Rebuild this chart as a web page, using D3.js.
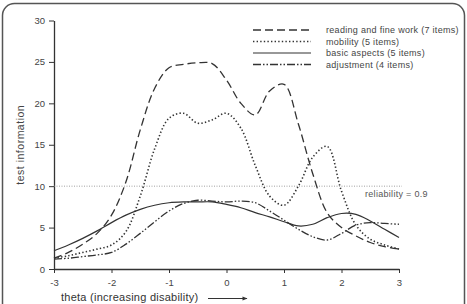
<!DOCTYPE html>
<html>
<head>
<meta charset="utf-8">
<script src="https://cdn.jsdelivr.net/npm/d3@7/dist/d3.min.js"></script>
<style>
  html, body { margin: 0; padding: 0; background: #fff; }
  svg { display: block; font-family: "Liberation Sans", Arial, sans-serif; }
</style>
</head>
<body>
<div id="chart"></div>
<script>
// theta grid and test information per subscale
const theta = [-3, -2.75, -2.5, -2.25, -2, -1.75, -1.5, -1.25, -1, -0.75, -0.5, -0.25, 0,
  0.25, 0.5, 0.75, 1, 1.25, 1.5, 1.75, 2, 2.25, 2.5, 2.75, 3];
const reading = [1.3, 2.0, 3.0, 4.3, 6.5, 10.5, 16.8, 21.8, 24.3, 24.7, 24.9, 24.8, 22.8,
  20.0, 18.6, 21.5, 22.3, 17.5, 11.5, 6.8, 5.0, 4.0, 3.2, 2.7, 2.4];
const mobility = [1.3, 1.6, 2.0, 2.4, 2.9, 4.5, 8.8, 14.5, 18.2, 18.8, 17.6, 18.0, 18.8,
  17.0, 12.5, 8.8, 7.7, 10.0, 13.5, 14.8, 9.4, 5.3, 3.6, 2.9, 2.4];
const basic = [2.2, 2.9, 3.7, 4.6, 5.6, 6.5, 7.2, 7.7, 8.0, 8.1, 8.1, 8.1, 7.8,
  7.4, 6.8, 6.3, 5.7, 5.2, 5.4, 6.2, 6.7, 6.6, 5.8, 4.8, 3.8];
const adjustment = [1.2, 1.3, 1.5, 1.7, 2.0, 3.0, 4.3, 5.7, 7.0, 7.9, 8.3, 8.2, 8.1,
  8.2, 8.0, 7.0, 5.9, 4.8, 3.9, 3.5, 4.3, 5.3, 5.6, 5.5, 5.4];
const seriesNames = ["reading and fine work (7 items)", "mobility (5 items)",
  "basic aspects (5 items)", "adjustment (4 items)"];
const xTicks = [-3, -2, -1, 0, 1, 2, 3];
const yTicks = [0, 5, 10, 15, 20, 25, 30];
const reliabilityLevel = 10;

const W = 467, H = 304;
const svg = d3.select("#chart").append("svg").attr("width", W).attr("height", H);

// rounded frame
svg.append("rect")
  .attr("x", 2.5).attr("y", 3.5).attr("width", 462).attr("height", 320)
  .attr("rx", 12).attr("ry", 12)
  .attr("fill", "none").attr("stroke", "#555").attr("stroke-width", 1.5);

const x = d3.scaleLinear().domain([-3, 3]).range([54, 399]);
const y = d3.scaleLinear().domain([0, 30]).range([269, 20.5]);

const ink = "#333";

// axes
const gx = svg.append("g").attr("transform", `translate(0,${y(0)})`)
  .call(d3.axisBottom(x).tickValues(xTicks).tickSize(4).tickSizeOuter(0).tickPadding(6));
const gy = svg.append("g").attr("transform", `translate(${x(-3)},0)`)
  .call(d3.axisLeft(y).tickValues(yTicks).tickSize(5).tickSizeOuter(0).tickPadding(4));
[gx, gy].forEach(g => {
  g.select(".domain").attr("stroke", ink).attr("stroke-width", 1.3);
  g.selectAll(".tick line").attr("stroke", ink).attr("stroke-width", 1);
  g.selectAll(".tick text").attr("fill", "#444").attr("font-size", 9.5)
    .attr("font-family", "Liberation Sans, Arial, sans-serif");
});
gx.selectAll(".tick text").text(d => d < 0 ? "-" + Math.abs(d) : d);

// reliability reference
svg.append("line")
  .attr("x1", x(-3)).attr("x2", 402)
  .attr("y1", y(reliabilityLevel)).attr("y2", y(reliabilityLevel))
  .attr("stroke", "#888").attr("stroke-width", 0.8).attr("stroke-dasharray", "1,1.5");
svg.append("text").attr("x", 365).attr("y", 197)
  .attr("font-size", 9).attr("fill", "#555").attr("letter-spacing", 0.3)
  .text("reliability = 0.9");

// curves
const styles = [
  { data: reading, dash: "8,4", width: 1.3 },
  { data: mobility, dash: "1.4,2.2", width: 1.6 },
  { data: basic, dash: null, width: 1.2 },
  { data: adjustment, dash: "8,2,1.5,2,1.5,2", width: 1.3 }
];
const line = d3.line().x(d => x(d[0])).y(d => y(d[1])).curve(d3.curveCatmullRom.alpha(0.5));

styles.forEach(s => {
  svg.append("path")
    .datum(theta.map((t, i) => [t, s.data[i]]))
    .attr("d", line)
    .attr("fill", "none").attr("stroke", ink)
    .attr("stroke-width", s.width)
    .attr("stroke-dasharray", s.dash);
});

// legend
const legendY = [30, 41.5, 53, 64.5];
seriesNames.forEach((name, i) => {
  svg.append("line")
    .attr("x1", 253).attr("x2", 311)
    .attr("y1", legendY[i]).attr("y2", legendY[i])
    .attr("stroke", ink).attr("stroke-width", styles[i].width)
    .attr("stroke-dasharray", styles[i].dash);
  svg.append("text").attr("x", 326).attr("y", legendY[i] + 3.2)
    .attr("font-size", 9).attr("fill", "#444").attr("letter-spacing", 0.3)
    .text(name);
});

// axis titles
svg.append("text")
  .attr("transform", `translate(24,${(y(0) + y(30)) / 2}) rotate(-90)`)
  .attr("text-anchor", "middle").attr("font-size", 10.5).attr("fill", "#444")
  .attr("letter-spacing", 0.5)
  .text("test information");
svg.append("text").attr("x", 61).attr("y", 301)
  .attr("font-size", 11).attr("fill", "#333").attr("letter-spacing", 0.25)
  .text("theta (increasing disability)");

// arrow
svg.append("defs").append("marker")
  .attr("id", "arr").attr("viewBox", "0 0 10 10").attr("refX", 9).attr("refY", 5)
  .attr("markerWidth", 7).attr("markerHeight", 5).attr("orient", "auto")
  .append("path").attr("d", "M0,1 L10,5 L0,9 Z").attr("fill", ink);
svg.append("line").attr("x1", 208).attr("x2", 247).attr("y1", 298.5).attr("y2", 298.5)
  .attr("stroke", ink).attr("stroke-width", 1).attr("marker-end", "url(#arr)");
</script>
</body>
</html>
